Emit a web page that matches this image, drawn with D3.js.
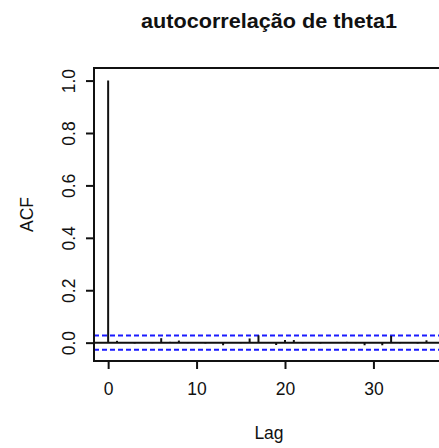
<!DOCTYPE html>
<html>
<head>
<meta charset="utf-8">
<script src="https://cdn.jsdelivr.net/npm/d3@7"></script>
<style>
  html, body { margin: 0; padding: 0; background: #fff; }
  svg { display: block; }
  text { font-family: "Liberation Sans", Arial, sans-serif; fill: #111; }
</style>
</head>
<body>
<script>
// ---- data ----
const lags = d3.range(0, 41);
const acfValues = [
  1.000, 0.007, 0.002, -0.003, 0.001, -0.002, 0.017, 0.003, 0.008, -0.002,
  0.001, -0.003, 0.002, -0.010, 0.001, -0.002, 0.016, 0.028, 0.002, -0.009,
  0.010, 0.010, -0.002, 0.001, -0.003, 0.002, -0.001, 0.003, -0.002, -0.010,
  0.001, -0.010, 0.026, -0.002, 0.002, -0.003, 0.009, 0.002, -0.003, 0.001,
  -0.002
];
const confLimit = 0.027;
const xTicks = [0, 10, 20, 30];
const yTicks = [0.0, 0.2, 0.4, 0.6, 0.8, 1.0];
const title = "autocorrelação de theta1";
const xLabel = "Lag";
const yLabel = "ACF";

// ---- layout ----
const W = 439, H = 448;
const box = { left: 94, right: 476, top: 68, bottom: 361 };

const svg = d3.select("body").append("svg").attr("width", W).attr("height", H);

const x = d3.scaleLinear().domain([-1.6, 41.6]).range([box.left, box.right]);
const y = d3.scaleLinear().domain([-0.07, 1.048]).range([box.bottom, box.top]);

const fs = 17.5;
const sw = 2;

// title
svg.append("text")
  .attr("x", 269).attr("y", 28)
  .attr("text-anchor", "middle")
  .attr("font-weight", "bold")
  .attr("font-size", 20)
  .attr("textLength", 256)
  .attr("lengthAdjust", "spacingAndGlyphs")
  .text(title);

// confidence lines
[confLimit, -confLimit].forEach(c => {
  svg.append("line")
    .attr("x1", box.left).attr("x2", box.right)
    .attr("y1", y(c)).attr("y2", y(c))
    .attr("stroke", "#1a1aff").attr("stroke-width", 2)
    .attr("stroke-dasharray", "5,3");
});

// zero line
svg.append("line")
  .attr("x1", box.left).attr("x2", box.right)
  .attr("y1", y(0)).attr("y2", y(0))
  .attr("stroke", "#111").attr("stroke-width", sw);

// spikes
svg.append("g").selectAll("line")
  .data(lags.map((l, i) => ({ lag: l, v: acfValues[i] })))
  .join("line")
  .attr("x1", d => x(d.lag)).attr("x2", d => x(d.lag))
  .attr("y1", y(0)).attr("y2", d => y(d.v))
  .attr("stroke", "#111").attr("stroke-width", sw);

// box
svg.append("path")
  .attr("d", `M${box.right},${box.top}H${box.left}V${box.bottom}H${box.right}`)
  .attr("fill", "none").attr("stroke", "#111").attr("stroke-width", sw);

// x axis
const xAxis = d3.axisBottom(x).tickValues(xTicks).tickSize(8).tickPadding(14)
  .tickFormat(d3.format("d"));
const gx = svg.append("g").attr("transform", `translate(0,${box.bottom})`).call(xAxis);
gx.select(".domain").remove();
gx.selectAll(".tick line").attr("stroke", "#111").attr("stroke-width", sw);
gx.selectAll(".tick text").attr("font-size", fs).attr("fill", "#111")
  .attr("font-family", "Liberation Sans, Arial, sans-serif");

// y axis
const yAxis = d3.axisLeft(y).tickValues(yTicks).tickSize(8).tickPadding(0)
  .tickFormat(d3.format(".1f"));
const gy = svg.append("g").attr("transform", `translate(${box.left},0)`).call(yAxis);
gy.select(".domain").remove();
gy.selectAll(".tick line").attr("stroke", "#111").attr("stroke-width", sw);
gy.selectAll(".tick text")
  .attr("font-size", fs).attr("fill", "#111")
  .attr("font-family", "Liberation Sans, Arial, sans-serif")
  .attr("x", null).attr("dy", null)
  .attr("text-anchor", "middle")
  .attr("transform", "translate(-25,0) rotate(-90)")
  .attr("y", 0).attr("dy", "0.35em");

// axis labels
svg.append("text")
  .attr("x", 269).attr("y", 439)
  .attr("text-anchor", "middle")
  .attr("font-size", fs)
  .text(xLabel);

svg.append("text")
  .attr("transform", `translate(33,${(box.top + box.bottom) / 2}) rotate(-90)`)
  .attr("text-anchor", "middle")
  .attr("font-size", fs)
  .text(yLabel);
</script>
</body>
</html>
